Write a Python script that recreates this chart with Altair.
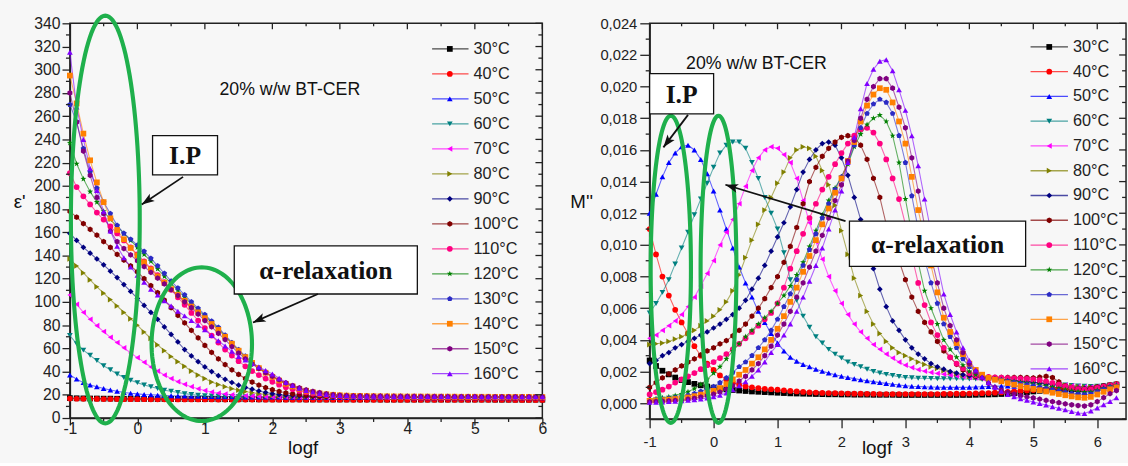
import math
import altair as alt
import pandas as pd

SANS = "Liberation Sans"
SERIF = "Liberation Serif"
INK = "#222222"
GREEN = "#1fb04c"

TEMPS = ["30°C", "40°C", "50°C", "60°C", "70°C", "80°C", "90°C",
         "100°C", "110°C", "120°C", "130°C", "140°C", "150°C", "160°C"]
COLORS = ["#000000", "#ff0000", "#0000ff", "#008080", "#ff00ff", "#808000", "#000080",
          "#800000", "#ff0080", "#008000", "#2b2bc4", "#ff8000", "#800080", "#8000ff"]
HEX = "M0,-1L0.866,-0.5L0.866,0.5L0,1L-0.866,0.5L-0.866,-0.5Z"
PENT = "M0,-1L0.951,-0.309L0.588,0.809L-0.588,0.809L-0.951,-0.309Z"
STAR = ("M0,-1.1L0.26,-0.36L1.05,-0.34L0.42,0.14L0.65,0.9L0,0.45L-0.65,0.9"
        "L-0.42,0.14L-1.05,-0.34L-0.26,-0.36Z")
ARROW = "M0,0L0.6,1.7L0,1.3L-0.6,1.7Z"
SHAPES = ["square", "circle", "triangle-up", "triangle-down", "triangle-left", "triangle-right",
          "diamond", HEX, "circle", STAR, PENT, "square", HEX, "triangle-up"]

X_MAJOR = [-1, 0, 1, 2, 3, 4, 5, 6]
X_MINOR = [-0.5, 0.5, 1.5, 2.5, 3.5, 4.5, 5.5]

# logf sampling (10 points per decade)
LOGF_EPS = [round(-1 + 0.1 * i, 1) for i in range(71)]
LOGF_MOD = [round(-1 + 0.1 * i, 1) for i in range(74)]

# ---------------- epsilon' (left panel) ----------------
EPS_30 = [17.2, 17.0, 16.9, 16.8, 16.8, 16.7, 16.7, 16.6, 16.6, 16.6,
          16.5, 16.5, 16.5, 16.4, 16.4, 16.4, 16.4, 16.3, 16.3, 16.3,
          16.3, 16.3, 16.2, 16.2, 16.2, 16.2, 16.2, 16.2, 16.1, 16.1,
          16.1, 16.1, 16.1, 16.1, 16.1, 16.0, 16.0, 16.0, 16.0, 16.0,
          16.0, 16.0, 16.0, 16.0, 16.0, 16.0, 15.9, 15.9, 15.9, 15.9,
          15.9, 15.9, 15.9, 15.9, 15.9, 15.9, 15.9, 15.9, 15.9, 15.9,
          15.9, 15.9, 15.9, 15.8, 15.8, 15.8, 15.8, 15.8, 15.8, 15.8,
          15.8]
EPS_40 = [16.8, 16.6, 16.5, 16.4, 16.4, 16.3, 16.3, 16.3, 16.2, 16.2,
          16.2, 16.2, 16.1, 16.1, 16.1, 16.1, 16.0, 16.0, 16.0, 16.0,
          16.0, 16.0, 15.9, 15.9, 15.9, 15.9, 15.9, 15.9, 15.9, 15.8,
          15.8, 15.8, 15.8, 15.8, 15.8, 15.8, 15.8, 15.8, 15.8, 15.8,
          15.8, 15.8, 15.7, 15.7, 15.7, 15.7, 15.7, 15.7, 15.7, 15.7,
          15.7, 15.7, 15.7, 15.7, 15.7, 15.7, 15.7, 15.7, 15.7, 15.7,
          15.7, 15.7, 15.7, 15.7, 15.7, 15.7, 15.6, 15.6, 15.6, 15.6,
          15.6]
EPS_50 = [37.0, 33.5, 30.5, 28.5, 27.0, 25.5, 24.2, 23.0, 22.0, 21.3,
          20.8, 20.3, 20.0, 19.7, 19.4, 19.2, 19.0, 18.9, 18.8, 18.7,
          18.6, 18.5, 18.4, 18.3, 18.3, 18.2, 18.2, 18.1, 18.1, 18.0,
          18.0, 18.0, 17.9, 17.9, 17.9, 17.8, 17.8, 17.8, 17.8, 17.7,
          17.7, 17.7, 17.7, 17.7, 17.6, 17.6, 17.6, 17.6, 17.6, 17.6,
          17.6, 17.5, 17.5, 17.5, 17.5, 17.5, 17.5, 17.5, 17.5, 17.5,
          17.5, 17.4, 17.4, 17.4, 17.4, 17.4, 17.4, 17.4, 17.4, 17.4,
          17.4]
EPS_60 = [71.0, 64.0, 58.5, 54.0, 49.5, 45.0, 41.5, 38.0, 35.0, 32.5,
          30.5, 28.5, 27.0, 25.5, 24.0, 23.0, 22.0, 21.0, 20.3, 19.6,
          19.1, 18.9, 18.7, 18.6, 18.5, 18.4, 18.3, 18.3, 18.2, 18.2,
          18.1, 18.1, 18.0, 18.0, 18.0, 17.9, 17.9, 17.9, 17.9, 17.8,
          17.8, 17.8, 17.8, 17.8, 17.7, 17.7, 17.7, 17.7, 17.7, 17.7,
          17.7, 17.6, 17.6, 17.6, 17.6, 17.6, 17.6, 17.6, 17.6, 17.6,
          17.6, 17.5, 17.5, 17.5, 17.5, 17.5, 17.5, 17.5, 17.5, 17.5,
          17.5]
EPS_70 = [106.0, 98.0, 91.0, 85.0, 79.5, 74.5, 69.5, 65.0, 60.5, 56.0,
          52.0, 48.0, 44.0, 40.5, 37.0, 34.0, 31.3, 29.0, 27.0, 25.2,
          23.7, 22.4, 21.4, 20.6, 20.0, 19.5, 19.1, 18.8, 18.6, 18.5,
          18.4, 18.3, 18.3, 18.2, 18.2, 18.1, 18.1, 18.1, 18.0, 18.0,
          18.0, 18.0, 17.9, 17.9, 17.9, 17.9, 17.9, 17.8, 17.8, 17.8,
          17.8, 17.8, 17.8, 17.8, 17.7, 17.7, 17.7, 17.7, 17.7, 17.7,
          17.7, 17.7, 17.7, 17.6, 17.6, 17.6, 17.6, 17.6, 17.6, 17.6,
          17.6]
EPS_80 = [137.0, 131.0, 125.0, 119.0, 113.0, 107.5, 102.0, 96.5, 91.0, 85.5,
          80.0, 74.0, 68.5, 63.0, 58.0, 53.0, 48.5, 44.5, 40.5, 37.0,
          34.0, 31.0, 28.8, 27.0, 25.3, 24.0, 22.8, 21.8, 21.0, 20.3,
          19.8, 19.4, 19.1, 18.9, 18.7, 18.6, 18.5, 18.4, 18.3, 18.3,
          18.2, 18.2, 18.1, 18.1, 18.1, 18.0, 18.0, 18.0, 18.0, 17.9,
          17.9, 17.9, 17.9, 17.9, 17.8, 17.8, 17.8, 17.8, 17.8, 17.8,
          17.8, 17.7, 17.7, 17.7, 17.7, 17.7, 17.7, 17.7, 17.7, 17.7,
          17.7]
EPS_90 = [159.0, 153.0, 147.0, 142.0, 137.0, 132.0, 126.5, 121.0, 115.0, 109.0,
          103.0, 97.0, 91.0, 85.0, 78.5, 72.0, 65.5, 59.0, 53.5, 48.5,
          44.0, 40.0, 36.5, 33.3, 30.6, 28.3, 26.4, 24.8, 23.3, 22.0,
          21.0, 20.2, 19.7, 19.3, 19.0, 18.8, 18.6, 18.5, 18.4, 18.3,
          18.3, 18.2, 18.2, 18.1, 18.1, 18.1, 18.0, 18.0, 18.0, 18.0,
          17.9, 17.9, 17.9, 17.9, 17.9, 17.9, 17.8, 17.8, 17.8, 17.8,
          17.8, 17.8, 17.8, 17.8, 17.7, 17.7, 17.7, 17.7, 17.7, 17.7,
          17.7]
EPS_100 = [178.0, 173.0, 167.5, 162.5, 157.5, 152.0, 147.0, 141.0, 136.0, 131.0,
           126.0, 120.0, 114.0, 108.0, 101.5, 95.0, 88.5, 82.0, 75.5, 69.0,
           62.5, 56.5, 51.0, 46.0, 41.5, 37.5, 34.0, 31.0, 28.3, 26.2,
           24.4, 22.9, 21.7, 20.8, 20.1, 19.6, 19.2, 18.9, 18.7, 18.6,
           18.5, 18.4, 18.4, 18.3, 18.3, 18.2, 18.2, 18.2, 18.1, 18.1,
           18.1, 18.1, 18.0, 18.0, 18.0, 18.0, 18.0, 17.9, 17.9, 17.9,
           17.9, 17.9, 17.9, 17.9, 17.9, 17.8, 17.8, 17.8, 17.8, 17.8,
           17.8]
EPS_110 = [211.0, 199.0, 191.0, 184.0, 177.0, 171.0, 165.0, 159.0, 153.0, 147.0,
           141.0, 135.0, 129.0, 123.0, 117.0, 110.5, 104.0, 97.5, 90.5, 84.0,
           77.5, 71.0, 65.0, 59.0, 53.8, 49.0, 44.5, 40.5, 37.0, 34.0,
           31.2, 28.7, 26.6, 24.8, 23.3, 22.1, 21.1, 20.4, 19.8, 19.4,
           19.1, 18.9, 18.8, 18.7, 18.6, 18.5, 18.5, 18.4, 18.4, 18.3,
           18.3, 18.3, 18.2, 18.2, 18.2, 18.2, 18.1, 18.1, 18.1, 18.1,
           18.1, 18.0, 18.0, 18.0, 18.0, 18.0, 18.0, 18.0, 18.0, 17.9,
           17.9]
EPS_120 = [237.0, 219.0, 206.0, 195.0, 186.0, 178.0, 171.0, 165.0, 159.0, 153.0,
           147.0, 141.0, 135.0, 128.5, 122.0, 116.0, 110.0, 104.0, 98.5, 93.0,
           88.0, 82.5, 77.0, 70.5, 64.0, 58.0, 52.5, 47.5, 43.0, 39.0,
           35.5, 32.3, 29.5, 27.2, 25.2, 23.5, 22.2, 21.2, 20.4, 19.9,
           19.5, 19.2, 19.0, 18.9, 18.8, 18.7, 18.6, 18.6, 18.5, 18.5,
           18.4, 18.4, 18.4, 18.3, 18.3, 18.3, 18.3, 18.2, 18.2, 18.2,
           18.2, 18.2, 18.1, 18.1, 18.1, 18.1, 18.1, 18.1, 18.0, 18.0,
           18.0]
EPS_130 = [270.0, 255.0, 232.0, 212.0, 198.0, 186.0, 176.0, 166.0, 159.0, 154.0,
           149.0, 143.5, 137.5, 131.0, 124.5, 118.0, 112.0, 106.0, 100.0, 94.5,
           89.0, 83.5, 78.0, 71.5, 65.0, 59.0, 53.3, 48.2, 43.5, 39.5,
           36.0, 32.7, 29.8, 27.4, 25.4, 23.7, 22.4, 21.3, 20.5, 20.0,
           19.6, 19.3, 19.1, 19.0, 18.9, 18.8, 18.7, 18.7, 18.6, 18.6,
           18.5, 18.5, 18.5, 18.4, 18.4, 18.4, 18.4, 18.3, 18.3, 18.3,
           18.3, 18.3, 18.2, 18.2, 18.2, 18.2, 18.2, 18.2, 18.1, 18.1,
           18.1]
EPS_140 = [295.0, 271.0, 245.0, 222.0, 203.0, 186.0, 172.0, 162.0, 154.0, 146.5,
           140.0, 134.0, 128.0, 122.0, 116.5, 111.0, 106.0, 101.0, 96.0, 91.0,
           86.0, 81.0, 76.0, 70.0, 64.0, 58.0, 52.5, 47.5, 43.0, 39.0,
           35.5, 32.3, 29.5, 27.2, 25.2, 23.5, 22.2, 21.2, 20.5, 20.0,
           19.6, 19.3, 19.1, 19.0, 18.9, 18.8, 18.7, 18.7, 18.6, 18.6,
           18.5, 18.5, 18.5, 18.5, 18.4, 18.4, 18.4, 18.4, 18.3, 18.3,
           18.3, 18.3, 18.3, 18.2, 18.2, 18.2, 18.2, 18.2, 18.2, 18.1,
           18.1]
EPS_150 = [280.0, 255.0, 230.0, 209.0, 190.0, 176.0, 161.0, 152.0, 146.0, 140.5,
           135.5, 130.5, 125.5, 120.5, 115.5, 110.5, 105.5, 100.0, 95.0, 89.5,
           84.0, 78.5, 73.0, 67.5, 61.5, 56.0, 51.0, 46.5, 42.5, 39.0,
           36.0, 33.0, 30.3, 28.0, 26.0, 24.3, 23.0, 21.8, 20.8, 20.1,
           19.6, 19.3, 19.1, 19.0, 18.9, 18.8, 18.8, 18.7, 18.7, 18.6,
           18.6, 18.6, 18.5, 18.5, 18.5, 18.5, 18.4, 18.4, 18.4, 18.4,
           18.4, 18.3, 18.3, 18.3, 18.3, 18.3, 18.3, 18.2, 18.2, 18.2,
           18.2]
EPS_160 = [315.0, 268.0, 240.0, 215.0, 196.0, 178.0, 161.0, 148.0, 138.0, 130.0,
           123.0, 117.0, 111.0, 106.0, 101.0, 96.5, 92.0, 88.0, 84.0, 80.0,
           76.0, 71.0, 66.5, 62.0, 57.5, 53.0, 50.0, 47.0, 44.0, 41.0,
           38.0, 34.3, 30.8, 28.0, 25.7, 23.8, 22.3, 21.1, 20.3, 19.7,
           19.3, 19.1, 18.9, 18.8, 18.8, 18.7, 18.7, 18.7, 18.6, 18.6,
           18.6, 18.6, 18.6, 18.5, 18.5, 18.5, 18.5, 18.5, 18.5, 18.5,
           18.5, 18.4, 18.4, 18.4, 18.4, 18.4, 18.4, 18.4, 18.4, 18.4,
           18.4]

# ---------------- M'' (right panel), in units of 1e-3 ----------------
MOD_30 = [2.70, 2.35, 2.05, 1.82, 1.62, 1.46, 1.33, 1.22, 1.13, 1.05,
          0.98, 0.92, 0.87, 0.83, 0.80, 0.77, 0.74, 0.72, 0.70, 0.68,
          0.66, 0.64, 0.62, 0.61, 0.60, 0.59, 0.58, 0.57, 0.56, 0.56,
          0.55, 0.55, 0.54, 0.54, 0.54, 0.53, 0.53, 0.53, 0.53, 0.52,
          0.52, 0.52, 0.52, 0.52, 0.52, 0.52, 0.52, 0.52, 0.52, 0.52,
          0.52, 0.53, 0.54, 0.55, 0.56, 0.58, 0.60, 0.63, 0.66, 0.70,
          0.74, 0.78, 0.82, 0.85, 0.87, 0.88, 0.88, 0.87, 0.88, 0.92,
          0.98, 1.05, 1.12, 1.18]
MOD_40 = [11.0, 9.4, 8.0, 6.8, 5.9, 5.1, 4.4, 3.6, 3.0, 2.5,
          2.1, 1.75, 1.5, 1.3, 1.15, 1.06, 1.0, 0.95, 0.91, 0.88,
          0.85, 0.81, 0.77, 0.74, 0.71, 0.69, 0.67, 0.65, 0.64, 0.63,
          0.62, 0.61, 0.60, 0.60, 0.59, 0.59, 0.58, 0.58, 0.58, 0.58,
          0.58, 0.58, 0.58, 0.58, 0.58, 0.58, 0.59, 0.59, 0.60, 0.60,
          0.61, 0.62, 0.63, 0.64, 0.66, 0.68, 0.71, 0.74, 0.77, 0.80,
          0.83, 0.86, 0.89, 0.91, 0.92, 0.92, 0.91, 0.90, 0.92, 0.96,
          1.02, 1.08, 1.14, 1.20]
MOD_50 = [12.0, 13.2, 14.3, 15.2, 15.8, 16.2, 16.3, 16.0, 15.4, 14.5,
          13.4, 12.2, 11.0, 9.8, 8.6, 7.6, 6.7, 5.8, 5.1, 4.4,
          3.8, 3.3, 2.9, 2.65, 2.45, 2.3, 2.15, 2.02, 1.9, 1.8,
          1.7, 1.62, 1.55, 1.48, 1.42, 1.36, 1.3, 1.25, 1.2, 1.15,
          1.1, 1.07, 1.05, 1.03, 1.02, 1.01, 1.0, 1.0, 1.0, 1.0,
          1.0, 1.02, 1.04, 1.06, 1.07, 1.08, 1.08, 1.07, 1.06, 1.04,
          1.01, 0.97, 0.92, 0.87, 0.82, 0.78, 0.75, 0.74, 0.76, 0.82,
          0.90, 0.98, 1.06, 1.14]
MOD_60 = [5.7, 6.3, 7.0, 7.8, 8.8, 9.8, 10.8, 11.9, 12.9, 13.9,
          14.9, 15.8, 16.3, 16.5, 16.5, 16.1, 15.2, 14.2, 13.0, 12.0,
          11.0, 9.5, 7.8, 6.5, 5.5, 4.8, 4.2, 3.8, 3.4, 3.1,
          2.85, 2.6, 2.45, 2.3, 2.15, 2.0, 1.9, 1.82, 1.75, 1.68,
          1.62, 1.6, 1.58, 1.57, 1.56, 1.55, 1.55, 1.54, 1.54, 1.53,
          1.53, 1.52, 1.5, 1.48, 1.46, 1.44, 1.42, 1.39, 1.36, 1.33,
          1.30, 1.27, 1.24, 1.21, 1.18, 1.15, 1.12, 1.09, 1.07, 1.06,
          1.07, 1.10, 1.14, 1.18]
MOD_70 = [4.1, 4.3, 4.6, 4.9, 5.2, 5.6, 6.1, 6.7, 7.4, 8.2,
          9.0, 10.0, 10.8, 11.6, 12.6, 13.7, 14.7, 15.5, 16.0, 16.2,
          16.1, 15.7, 15.2, 14.2, 12.8, 11.4, 10.2, 9.1, 8.0, 7.1,
          6.3, 5.6, 5.0, 4.5, 4.1, 3.7, 3.4, 3.1, 2.85, 2.6,
          2.4, 2.25, 2.12, 2.02, 1.94, 1.88, 1.83, 1.78, 1.73, 1.68,
          1.63, 1.60, 1.57, 1.54, 1.51, 1.48, 1.45, 1.42, 1.39, 1.36,
          1.33, 1.30, 1.26, 1.22, 1.18, 1.14, 1.10, 1.06, 1.03, 1.02,
          1.04, 1.08, 1.13, 1.18]
MOD_80 = [3.7, 3.75, 3.8, 3.9, 4.05, 4.2, 4.4, 4.6, 4.9, 5.2,
          5.5, 5.9, 6.4, 7.1, 8.1, 9.2, 10.3, 11.3, 12.2, 13.0,
          13.9, 14.6, 15.5, 16.0, 16.2, 16.1, 15.6, 14.7, 13.8, 12.5,
          10.9, 9.4, 7.9, 6.8, 5.8, 5.0, 4.4, 3.9, 3.5, 3.2,
          3.0, 2.8, 2.6, 2.45, 2.3, 2.2, 2.05, 1.95, 1.85, 1.75,
          1.68, 1.63, 1.59, 1.55, 1.52, 1.49, 1.46, 1.43, 1.40, 1.37,
          1.33, 1.29, 1.25, 1.21, 1.17, 1.13, 1.09, 1.05, 1.02, 1.01,
          1.03, 1.07, 1.12, 1.17]
MOD_90 = [2.5, 2.7, 3.0, 3.2, 3.5, 3.7, 3.9, 4.1, 4.3, 4.5,
          4.75, 5.0, 5.3, 5.6, 6.0, 6.5, 7.2, 7.9, 8.7, 9.6,
          10.5, 11.4, 12.4, 13.5, 14.6, 15.4, 16.0, 16.4, 16.5, 16.3,
          15.5, 14.4, 13.0, 11.6, 9.9, 8.5, 7.2, 6.1, 5.2, 4.6,
          4.0, 3.5, 3.1, 2.8, 2.5, 2.3, 2.15, 2.0, 1.9, 1.8,
          1.72, 1.66, 1.62, 1.58, 1.55, 1.52, 1.49, 1.45, 1.41, 1.37,
          1.33, 1.28, 1.22, 1.16, 1.10, 1.04, 0.99, 0.95, 0.93, 0.94,
          0.98, 1.04, 1.10, 1.16]
MOD_100 = [1.0, 1.3, 1.6, 1.85, 2.1, 2.35, 2.6, 2.8, 3.05, 3.3,
           3.5, 3.75, 3.95, 4.25, 4.6, 5.0, 5.5, 6.0, 6.6, 7.3,
           8.0, 8.9, 9.9, 11.1, 12.6, 14.0, 14.9, 15.6, 16.1, 16.5,
           16.8, 16.9, 16.8, 16.3, 15.4, 14.2, 13.0, 11.3, 10.2, 9.0,
           7.8, 6.7, 5.8, 5.1, 4.5, 3.9, 3.3, 2.9, 2.45, 2.1,
           1.85, 1.72, 1.66, 1.64, 1.63, 1.63, 1.63, 1.63, 1.63, 1.62,
           1.60, 1.64, 1.70, 1.62, 1.35, 1.10, 0.95, 0.85, 0.85, 0.93,
           1.03, 1.10, 1.15, 1.20]
MOD_110 = [0.55, 0.7, 0.85, 1.05, 1.3, 1.5, 1.7, 1.9, 2.15, 2.4,
           2.6, 2.85, 3.1, 3.4, 3.75, 4.1, 4.5, 4.9, 5.3, 5.7,
           6.3, 7.3, 8.5, 9.6, 10.7, 11.7, 12.6, 13.5, 14.3, 15.1,
           15.8, 16.4, 16.9, 17.3, 17.4, 17.1, 16.4, 15.4, 14.2, 12.9,
           11.3, 9.3, 7.6, 6.2, 5.1, 4.3, 3.5, 2.9, 2.5, 2.2,
           1.9, 1.76, 1.7, 1.66, 1.63, 1.61, 1.59, 1.57, 1.55, 1.53,
           1.50, 1.45, 1.38, 1.28, 1.18, 1.07, 0.97, 0.89, 0.85, 0.88,
           0.96, 1.05, 1.12, 1.18]
MOD_120 = [0.25, 0.29, 0.34, 0.40, 0.48, 0.58, 0.72, 0.92, 1.18, 1.5,
           1.9, 2.3, 2.8, 3.3, 3.75, 4.2, 4.6, 5.0, 5.4, 5.8,
           6.3, 6.8, 7.4, 8.1, 8.9, 9.9, 10.9, 11.9, 12.8, 13.6,
           14.3, 15.1, 16.2, 17.0, 17.6, 18.0, 18.2, 17.8, 16.9, 15.2,
           12.9, 10.7, 8.9, 7.1, 6.0, 5.0, 4.0, 3.4, 2.9, 2.4,
           2.0, 1.8, 1.68, 1.6, 1.54, 1.48, 1.43, 1.38, 1.33, 1.28,
           1.23, 1.17, 1.10, 1.02, 0.94, 0.86, 0.79, 0.73, 0.70, 0.72,
           0.82, 0.95, 1.07, 1.15]
MOD_130 = [0.2, 0.22, 0.25, 0.3, 0.35, 0.42, 0.5, 0.6, 0.75, 0.9,
           1.05, 1.3, 1.6, 1.95, 2.3, 2.6, 3.0, 3.5, 4.0, 4.6,
           5.3, 6.1, 6.9, 7.8, 8.7, 9.7, 10.7, 11.7, 12.6, 13.5,
           14.3, 15.2, 16.3, 17.4, 18.3, 18.9, 19.2, 19.0, 18.3, 16.9,
           15.2, 13.1, 11.0, 9.1, 7.6, 6.3, 5.0, 4.2, 3.5, 2.8,
           2.3, 2.0, 1.78, 1.62, 1.52, 1.45, 1.38, 1.31, 1.24, 1.17,
           1.10, 1.02, 0.94, 0.86, 0.77, 0.68, 0.60, 0.55, 0.53, 0.58,
           0.72, 0.88, 1.0, 1.08]
MOD_140 = [0.15, 0.17, 0.19, 0.22, 0.26, 0.3, 0.36, 0.44, 0.54, 0.65,
           0.78, 0.95, 1.2, 1.5, 1.8, 2.1, 2.5, 2.9, 3.4, 4.0,
           4.7, 5.5, 6.4, 7.3, 8.3, 9.3, 10.3, 11.3, 12.3, 13.3,
           14.2, 15.3, 16.5, 17.8, 18.8, 19.5, 19.9, 19.8, 19.0, 17.8,
           16.4, 14.3, 12.2, 10.4, 8.7, 7.0, 5.4, 4.5, 3.8, 3.1,
           2.5, 2.1, 1.8, 1.6, 1.48, 1.38, 1.27, 1.17, 1.07, 0.98,
           0.90, 0.82, 0.74, 0.66, 0.58, 0.50, 0.43, 0.37, 0.34, 0.40,
           0.55, 0.72, 0.88, 1.0]
MOD_150 = [0.1, 0.11, 0.13, 0.15, 0.18, 0.21, 0.25, 0.31, 0.39, 0.47,
           0.57, 0.7, 0.88, 1.1, 1.4, 1.7, 2.1, 2.5, 3.0, 3.6,
           4.3, 5.0, 5.8, 6.7, 7.6, 8.6, 9.6, 10.6, 11.7, 12.8,
           13.8, 15.3, 16.6, 18.0, 19.2, 20.0, 20.5, 20.5, 19.9, 18.7,
           17.4, 15.5, 13.4, 11.2, 9.3, 7.6, 6.0, 4.9, 4.0, 3.2,
           2.5, 2.0, 1.6, 1.25, 1.0, 0.82, 0.68, 0.57, 0.47, 0.40,
           0.33, 0.26, 0.18, 0.10, 0.03, -0.04, -0.10, -0.15, -0.18, -0.10,
           0.10, 0.35, 0.60, 0.80]
MOD_160 = [0.05, 0.06, 0.08, 0.1, 0.12, 0.15, 0.18, 0.22, 0.27, 0.33,
           0.4, 0.5, 0.65, 0.85, 1.1, 1.35, 1.7, 2.1, 2.6, 3.2,
           3.7, 4.3, 5.0, 5.8, 6.7, 7.7, 8.7, 9.8, 11.0, 12.2,
           13.4, 15.2, 16.8, 18.6, 20.2, 21.1, 21.6, 21.7, 21.0, 19.8,
           18.5, 16.9, 15.0, 12.9, 10.8, 8.8, 6.9, 5.6, 4.5, 3.5,
           2.7, 2.1, 1.65, 1.3, 1.0, 0.75, 0.55, 0.4, 0.28, 0.18,
           0.08, -0.02, -0.12, -0.22, -0.32, -0.42, -0.52, -0.62, -0.65, -0.5,
           -0.3, -0.1, 0.1, 0.35]

EPS = [EPS_30, EPS_40, EPS_50, EPS_60, EPS_70, EPS_80, EPS_90,
       EPS_100, EPS_110, EPS_120, EPS_130, EPS_140, EPS_150, EPS_160]
MOD = [MOD_30, MOD_40, MOD_50, MOD_60, MOD_70, MOD_80, MOD_90,
       MOD_100, MOD_110, MOD_120, MOD_130, MOD_140, MOD_150, MOD_160]


def long_table(xs, series, scale=1.0):
    rows = []
    for k, (t, vals) in enumerate(zip(TEMPS, series)):
        assert len(vals) == len(xs), (t, len(vals), len(xs))
        for x, y in zip(xs, vals):
            rows.append({"temp": t, "k": k, "logf": x, "v": y * scale})
    return pd.DataFrame(rows)


def ellipse_table(specs):
    rows = []
    for e, (cx, cy, rx, ry) in enumerate(specs):
        for j in range(121):
            a = 2 * math.pi * j / 120
            rows.append({"eid": e, "ord": j,
                         "logf": cx + rx * math.cos(a), "v": cy + ry * math.sin(a)})
    return pd.DataFrame(rows)


ONE = pd.DataFrame({"a": [0]})


def box(x0, x1, y0, y1):
    return alt.Chart(ONE).mark_rect(fill="white", stroke="#111", strokeWidth=1.3).encode(
        x=alt.value(x0), x2=alt.value(x1), y=alt.value(y0), y2=alt.value(y1))


def label(txt, x, y, size, font=SANS, weight="normal", align="center"):
    return alt.Chart(ONE).mark_text(text=txt, font=font, fontSize=size, fontWeight=weight,
                                    color="#111", align=align, baseline="middle").encode(
        x=alt.value(x), y=alt.value(y))


def arrow(x0, y0, x1, y1):
    ang = math.degrees(math.atan2(x1 - x0, -(y1 - y0))) % 360
    line = alt.Chart(ONE).mark_rule(color="#111", strokeWidth=1.8).encode(
        x=alt.value(x0), y=alt.value(y0), x2=alt.value(x1), y2=alt.value(y1))
    head = alt.Chart(ONE).mark_point(shape=ARROW, angle=ang, size=230, filled=True,
                                     color="#111", opacity=1, strokeWidth=0).encode(
        x=alt.value(x1), y=alt.value(y1))
    return [line, head]


def panel(df, cfg):
    W, H = cfg["W"], cfg["H"]
    xs = alt.Scale(domain=cfg["xdom"], nice=False, zero=False)
    ys = alt.Scale(domain=cfg["ydom"], nice=False, zero=False)
    X = alt.X("logf:Q", scale=xs, axis=alt.Axis(
        values=X_MAJOR, labelExpr="'' + datum.value", title=None, grid=False,
        tickSize=cfg["xtick"], tickWidth=1.3, tickColor=INK, domainColor=INK, domainWidth=1.5,
        labelFont=SANS, labelFontSize=cfg["fs"], labelColor=INK, labelPadding=cfg["xpad"],
        labelFlush=False, labelOverlap=False))
    Y = alt.Y("v:Q", scale=ys, axis=alt.Axis(
        values=cfg["ymajor"], labelExpr=cfg["yexpr"], title=None, grid=False,
        tickSize=cfg["ytick"], tickWidth=1.3, tickColor=INK, domainColor=INK, domainWidth=1.5,
        labelFont=SANS, labelFontSize=cfg["fs"], labelColor=INK, labelPadding=cfg["ypad"],
        labelFlush=False, labelOverlap=False))
    color = alt.Color("temp:N", scale=alt.Scale(domain=TEMPS, range=COLORS), legend=None)
    shape = alt.Shape("temp:N", scale=alt.Scale(domain=TEMPS, range=SHAPES), legend=None)

    base = alt.Chart(df)
    lines = base.mark_line(strokeWidth=1.1, opacity=0.6).encode(
        x=X, y=Y, color=color, detail="temp:N")
    pts = base.mark_point(filled=True, size=34, opacity=1, strokeWidth=0).encode(
        x=X, y=Y, color=color, shape=shape, order="k:Q")

    def xt(vals, y0, y1):
        return alt.Chart(pd.DataFrame({"logf": vals})).mark_rule(
            color=INK, strokeWidth=1.3).encode(x=X, y=alt.value(y0), y2=alt.value(y1))

    def yt(vals, x0, x1):
        return alt.Chart(pd.DataFrame({"v": vals})).mark_rule(
            color=INK, strokeWidth=1.3).encode(y=Y, x=alt.value(x0), x2=alt.value(x1))

    ticks = [xt(X_MAJOR, 0, 6), xt(X_MINOR, 0, 3), xt(X_MINOR, H, H + 4),
             yt(cfg["yminor"], -4, 0), yt(cfg["ymajor"], W - 7, W), yt(cfg["yminor"], W - 4, W)]

    ell = alt.Chart(ellipse_table(cfg["ellipses"])).mark_line(
        color=GREEN, strokeWidth=4.2).encode(x=X, y=Y, detail="eid:N", order="ord:Q")

    ann = [ell]
    for (x0, x1, y0, y1, txt) in cfg["boxes"]:
        ann.append(box(x0, x1, y0, y1))
        ann.append(label(txt, (x0 + x1) / 2, (y0 + y1) / 2 + 1, 26, SERIF, "bold"))
    for a in cfg["arrows"]:
        ann.extend(arrow(*a))
    ann.append(label("20% w/w BT-CER", cfg["note"][0], cfg["note"][1], 18, align="left"))
    ann.append(label(cfg["ytitle"], cfg["ytitle_pos"][0], cfg["ytitle_pos"][1], 19))
    ann.append(label("logf", cfg["xtitle_pos"][0], cfg["xtitle_pos"][1], 19))

    data_layer = alt.layer(lines, pts, *ticks, *ann)

    leg = pd.DataFrame({"temp": TEMPS})
    LY = alt.Y("temp:N", scale=alt.Scale(type="point", domain=TEMPS, range=cfg["legy"],
                                          padding=0), axis=None)
    lx0, lx1, lm, lt = cfg["legx"]
    leg_line = alt.Chart(leg).mark_rule(strokeWidth=1.3, opacity=0.7).encode(
        x=alt.value(lx0), x2=alt.value(lx1), y=LY, color=color)
    leg_pt = alt.Chart(leg).mark_point(filled=True, size=34, opacity=1, strokeWidth=0).encode(
        x=alt.value(lm), y=LY, color=color, shape=shape)
    leg_txt = alt.Chart(leg).mark_text(align="left", baseline="middle", font=SANS,
                                       fontSize=16.5, color=INK).encode(
        x=alt.value(lt), y=LY, text="temp:N")
    legend_layer = alt.layer(leg_line, leg_pt, leg_txt)

    return alt.layer(data_layer, legend_layer).resolve_scale(y="independent").properties(
        width=W, height=H)


left_cfg = dict(
    W=480, H=401, xdom=[-1, 6], ydom=[0, 340], fs=16,
    ymajor=list(range(0, 341, 20)), yminor=list(range(10, 340, 20)),
    yexpr="'' + datum.value", xtick=7, xpad=-4, ytick=8, ypad=2,
    ellipses=[(-0.475, 171.0, 0.51, 175.6), (0.954, 63.6, 0.744, 66.2)],
    boxes=[(84, 150, 114, 154, "I.P"), (167, 353, 226, 275, "α-relaxation")],
    arrows=[(115, 156, 73, 184), (252, 275, 186, 304)],
    note=(152, 68), ytitle="ε'", ytitle_pos=(-51, 182), xtitle_pos=(237, 432),
    legy=[26, 356], legx=(368, 405, 386, 410),
)

right_cfg = dict(
    W=484, H=402, xdom=[-1, 6.45], ydom=[-0.001, 0.024], fs=15,
    ymajor=[round(0.002 * i, 3) for i in range(13)],
    yminor=[round(-0.001 + 0.002 * i, 3) for i in range(13)],
    yexpr="replace(format(datum.value, '.3f'), '.', ',')", xtick=9, xpad=7, ytick=10, ypad=3,
    ellipses=[(-0.669, 0.00846, 0.315, 0.0097), (0.077, 0.00846, 0.28, 0.0097)],
    boxes=[(0, 65, 51, 92, "I.P"), (203, 382, 201, 247, "α-relaxation")],
    arrows=[(39, 93, 14, 126), (199, 201, 77, 164)],
    note=(37, 41), ytitle="M''", ytitle_pos=(-69, 182), xtitle_pos=(231, 432),
    legy=[24, 351], legx=(387, 425, 406, 430),
)

left = panel(long_table(LOGF_EPS, EPS), left_cfg)
right = panel(long_table(LOGF_MOD, MOD, 0.001), right_cfg)

chart = alt.hconcat(left, right, spacing=21).configure_view(
    stroke=INK, strokeWidth=1.5).properties(
    padding={"left": 13, "top": 3, "right": 0, "bottom": 0}, background="#f7f7f7")

chart.save("out.html", embed_options={"renderer": "svg", "actions": False})
